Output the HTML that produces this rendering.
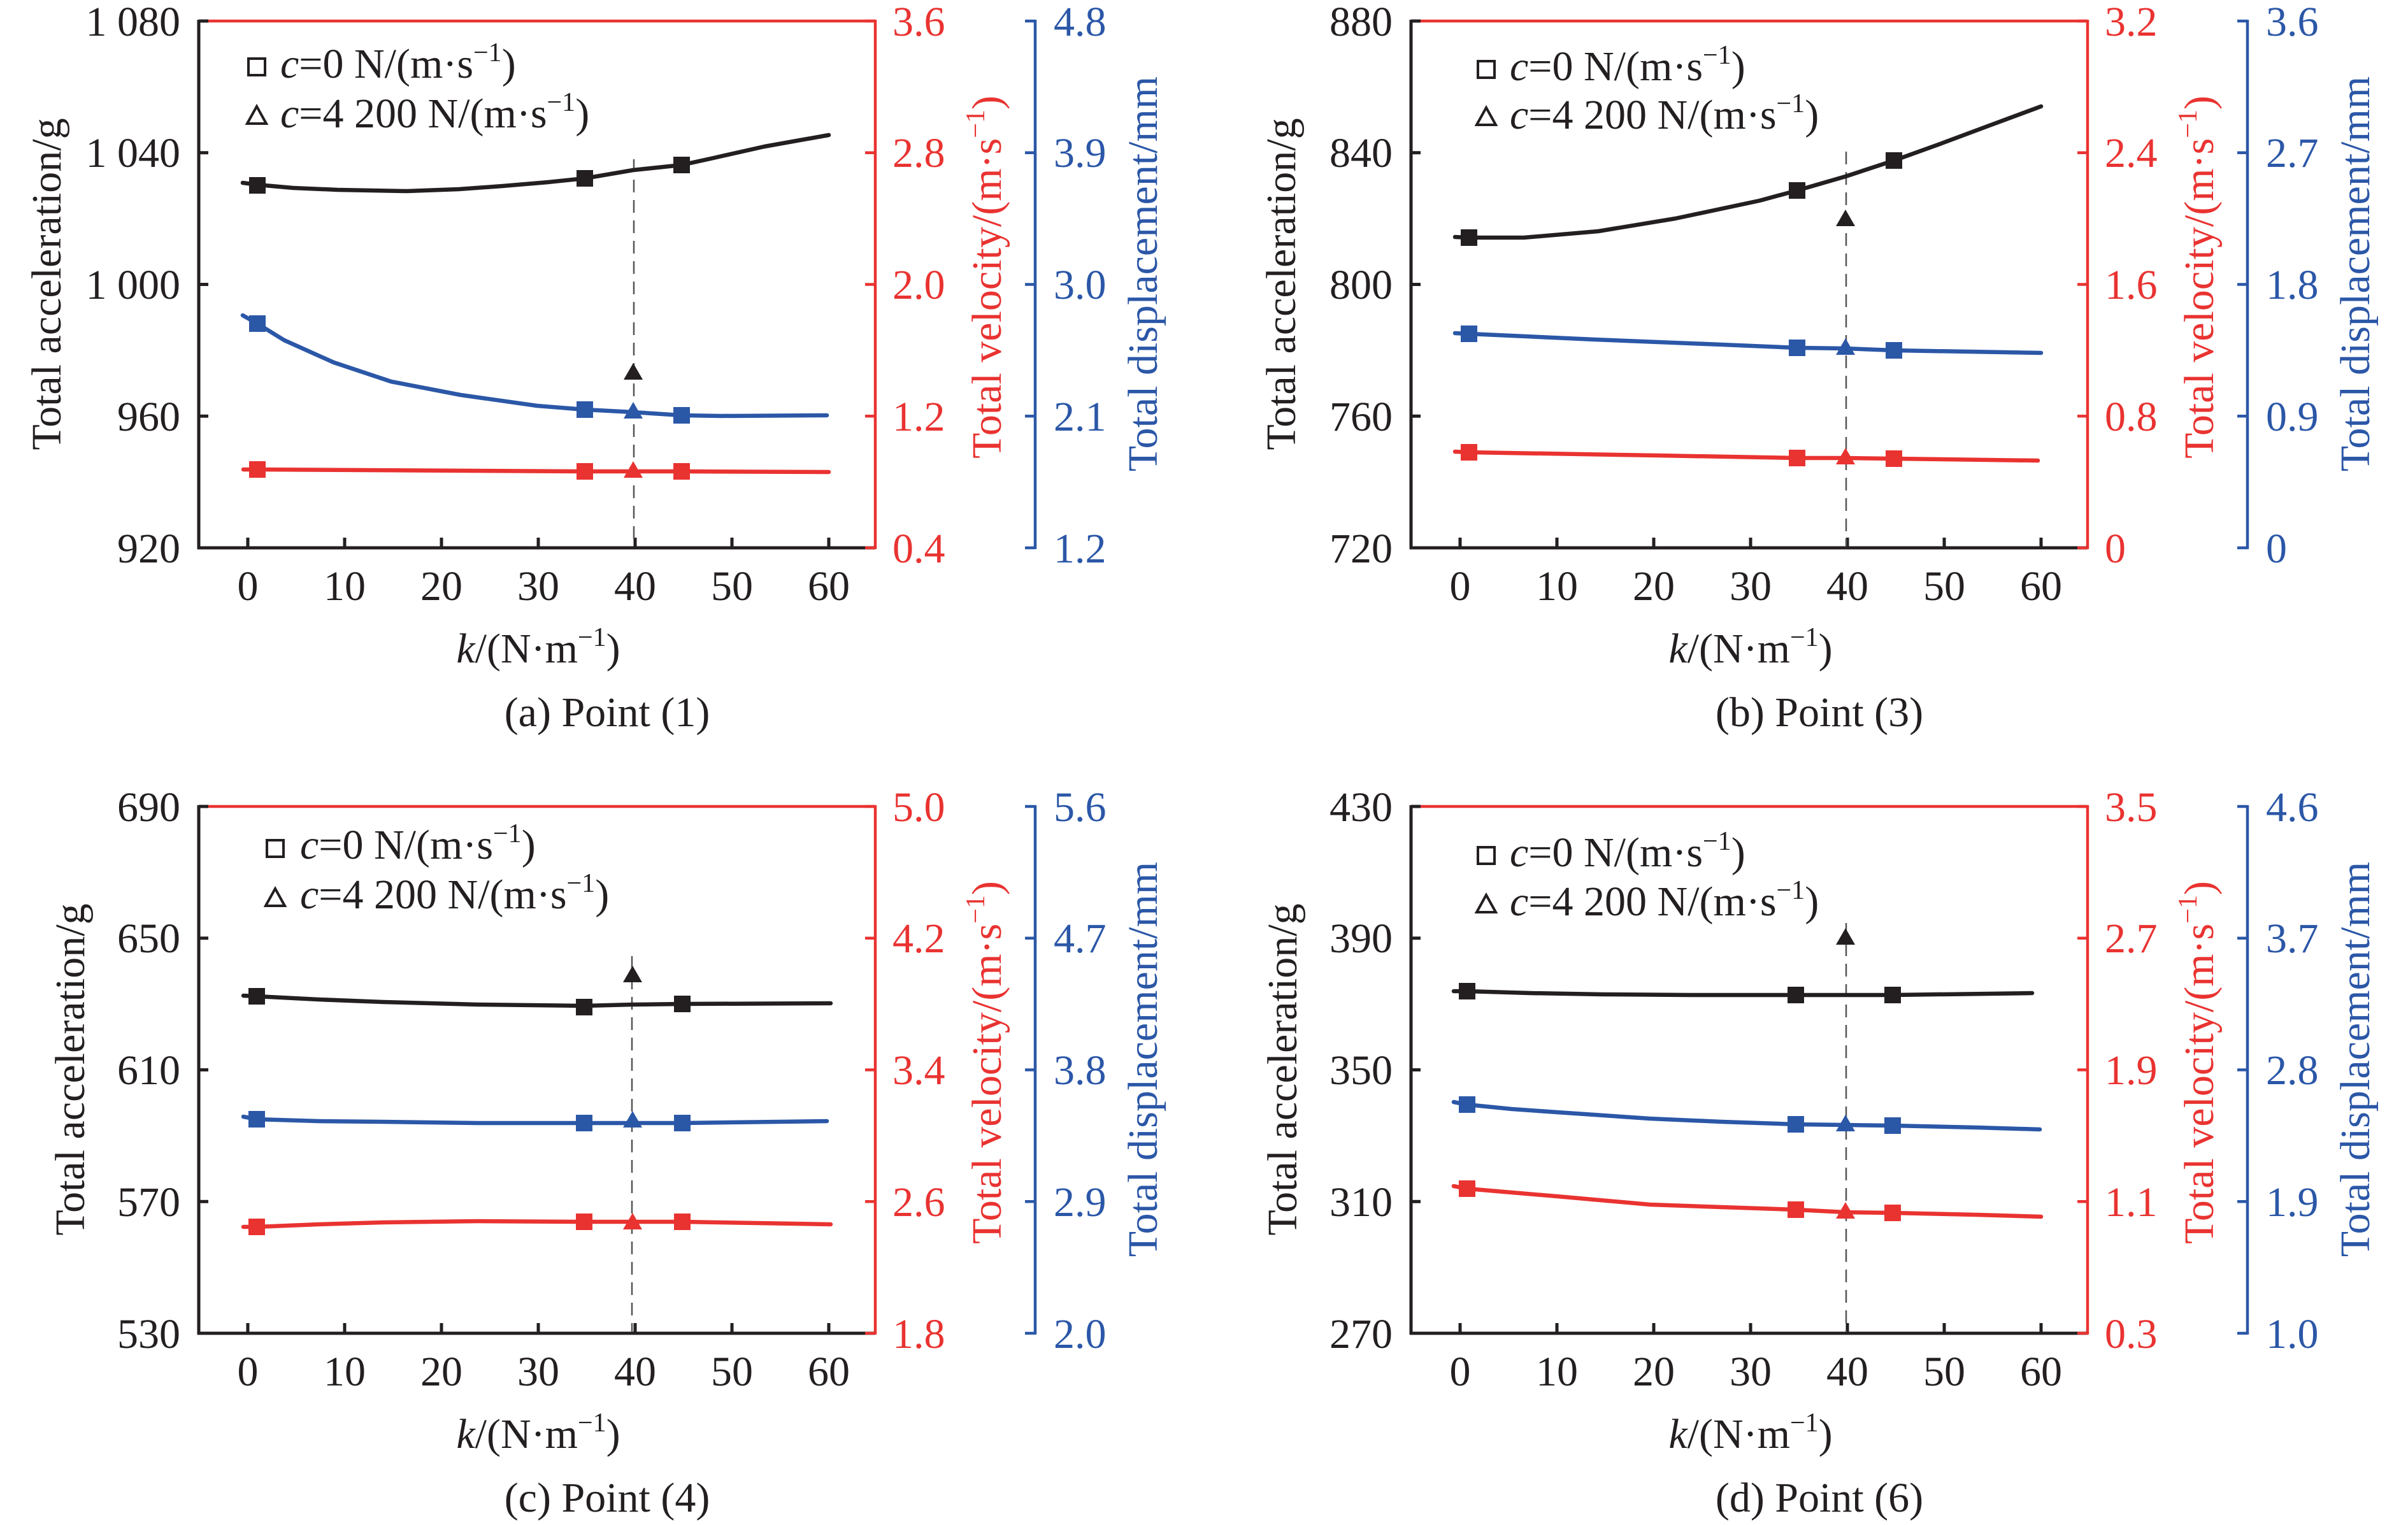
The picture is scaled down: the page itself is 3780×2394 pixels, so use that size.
<!DOCTYPE html>
<html>
<head>
<meta charset="utf-8">
<style>
  html,body{margin:0;padding:0;background:#fff;}
  svg{display:block;}
</style>
</head>
<body>
<svg xmlns="http://www.w3.org/2000/svg" width="3780" height="2394" viewBox="0 0 3780 2394">
<rect width="3780" height="2394" fill="#ffffff"/>
<g font-family="'Liberation Serif', 'Times New Roman', serif" font-size="66" fill="#231f20">

<!-- ================= PANEL (a) ================= -->
<g transform="translate(0,0)">
  <line x1="312" y1="33" x2="1374" y2="33" stroke="#e93331" stroke-width="4.5"/>
  <line x1="1374" y1="31" x2="1374" y2="862" stroke="#e93331" stroke-width="4.5"/>
  <line x1="310" y1="860" x2="1374" y2="860" stroke="#231f20" stroke-width="5"/>
  <line x1="312" y1="31" x2="312" y2="862" stroke="#231f20" stroke-width="5"/>
  <path d="M312,33h15M312,239.75h15M312,446.5h15M312,653.25h15M312,860h15" stroke="#231f20" stroke-width="5" fill="none"/>
  <path d="M1374,33h-16M1374,239.75h-16M1374,446.5h-16M1374,653.25h-16M1374,860h-16" stroke="#e93331" stroke-width="4.5" fill="none"/>
  <path d="M389,860v-16M541,860v-16M693,860v-16M845,860v-16M997,860v-16M1149,860v-16M1301,860v-16" stroke="#231f20" stroke-width="5" fill="none"/>
  <line x1="1625" y1="31" x2="1625" y2="862" stroke="#2b57a7" stroke-width="4.5"/>
  <path d="M1625,33h-16M1625,239.75h-16M1625,446.5h-16M1625,653.25h-16M1625,860h-16" stroke="#2b57a7" stroke-width="4.5" fill="none"/>
  <g text-anchor="end">
    <text x="283" y="56">1 080</text><text x="283" y="262">1 040</text><text x="283" y="469">1 000</text><text x="283" y="676">960</text><text x="283" y="883">920</text>
  </g>
  <g fill="#e93331">
    <text x="1401" y="56">3.6</text><text x="1401" y="262">2.8</text><text x="1401" y="469">2.0</text><text x="1401" y="676">1.2</text><text x="1401" y="883">0.4</text>
  </g>
  <g fill="#2b57a7">
    <text x="1654" y="56">4.8</text><text x="1654" y="262">3.9</text><text x="1654" y="469">3.0</text><text x="1654" y="676">2.1</text><text x="1654" y="883">1.2</text>
  </g>
  <g text-anchor="middle">
    <text x="389" y="942">0</text><text x="541" y="942">10</text><text x="693" y="942">20</text><text x="845" y="942">30</text><text x="997" y="942">40</text><text x="1149" y="942">50</text><text x="1301" y="942">60</text>
  </g>
  <text transform="translate(95,446) rotate(-90)" text-anchor="middle">Total acceleration/g</text>
  <text transform="translate(1571,435) rotate(-90)" text-anchor="middle" fill="#e93331">Total velocity/(m·s<tspan dy="-26" font-size="42">−1</tspan><tspan dy="26">)</tspan></text>
  <text transform="translate(1816,430) rotate(-90)" text-anchor="middle" fill="#2b57a7">Total displacement/mm</text>
  <text x="845" y="1040" text-anchor="middle"><tspan font-style="italic">k</tspan>/(N·m<tspan dy="-26" font-size="42">−1</tspan><tspan dy="26">)</tspan></text>
  <text x="953" y="1140" text-anchor="middle">(a) Point (1)</text>
  <rect x="390" y="92" width="26" height="26" fill="none" stroke="#231f20" stroke-width="4"/>
  <polygon points="388,194 418,194 403,167" fill="none" stroke="#231f20" stroke-width="4"/>
  <text x="440" y="122"><tspan font-style="italic">c</tspan>=0 N/(m·s<tspan dy="-26" font-size="42">−1</tspan><tspan dy="26">)</tspan></text>
  <text x="440" y="200"><tspan font-style="italic">c</tspan>=4 200 N/(m·s<tspan dy="-26" font-size="42">−1</tspan><tspan dy="26">)</tspan></text>
  <line x1="995" y1="250" x2="995" y2="858" stroke="#555" stroke-width="2.5" stroke-dasharray="20,12"/>
  <g fill="none" stroke-width="6.5" stroke-linejoin="round" stroke-linecap="round">
    <polyline stroke="#231f20" points="381,287 404,290 460,295 530,298 639,300 720,297 789,292 860,286 918,280 994,267 1070,259 1120,248 1200,230 1301,212"/>
    <polyline stroke="#2b57a7" points="381,495 404,508 446,534 524,569 614,599 723,620 843,637 918,643 994,647 1070,652 1133,653 1298,652"/>
    <polyline stroke="#e93331" points="382,737 404,737 918,740 994,740 1070,740 1301,741"/>
  </g>
  <g fill="#231f20"><rect x="391" y="278" width="26" height="26"/><rect x="905" y="267" width="26" height="26"/><rect x="1057" y="246" width="26" height="26"/><polygon points="979,596 1009,596 994,570"/></g>
  <g fill="#2b57a7"><rect x="391" y="495" width="26" height="26"/><rect x="905" y="630" width="26" height="26"/><rect x="1057" y="639" width="26" height="26"/><polygon points="979,657 1009,657 994,631"/></g>
  <g fill="#e93331"><rect x="391" y="724" width="26" height="26"/><rect x="905" y="727" width="26" height="26"/><rect x="1057" y="727" width="26" height="26"/><polygon points="979,750 1009,750 994,724"/></g>
</g>

<!-- ================= PANEL (b) ================= -->
<g transform="translate(1903,0)">
  <line x1="312" y1="33" x2="1374" y2="33" stroke="#e93331" stroke-width="4.5"/>
  <line x1="1374" y1="31" x2="1374" y2="862" stroke="#e93331" stroke-width="4.5"/>
  <line x1="310" y1="860" x2="1374" y2="860" stroke="#231f20" stroke-width="5"/>
  <line x1="312" y1="31" x2="312" y2="862" stroke="#231f20" stroke-width="5"/>
  <path d="M312,33h15M312,239.75h15M312,446.5h15M312,653.25h15M312,860h15" stroke="#231f20" stroke-width="5" fill="none"/>
  <path d="M1374,33h-16M1374,239.75h-16M1374,446.5h-16M1374,653.25h-16M1374,860h-16" stroke="#e93331" stroke-width="4.5" fill="none"/>
  <path d="M389,860v-16M541,860v-16M693,860v-16M845,860v-16M997,860v-16M1149,860v-16M1301,860v-16" stroke="#231f20" stroke-width="5" fill="none"/>
  <line x1="1625" y1="31" x2="1625" y2="862" stroke="#2b57a7" stroke-width="4.5"/>
  <path d="M1625,33h-16M1625,239.75h-16M1625,446.5h-16M1625,653.25h-16M1625,860h-16" stroke="#2b57a7" stroke-width="4.5" fill="none"/>
  <g text-anchor="end">
    <text x="283" y="56">880</text><text x="283" y="262">840</text><text x="283" y="469">800</text><text x="283" y="676">760</text><text x="283" y="883">720</text>
  </g>
  <g fill="#e93331">
    <text x="1401" y="56">3.2</text><text x="1401" y="262">2.4</text><text x="1401" y="469">1.6</text><text x="1401" y="676">0.8</text><text x="1401" y="883">0</text>
  </g>
  <g fill="#2b57a7">
    <text x="1654" y="56">3.6</text><text x="1654" y="262">2.7</text><text x="1654" y="469">1.8</text><text x="1654" y="676">0.9</text><text x="1654" y="883">0</text>
  </g>
  <g text-anchor="middle">
    <text x="389" y="942">0</text><text x="541" y="942">10</text><text x="693" y="942">20</text><text x="845" y="942">30</text><text x="997" y="942">40</text><text x="1149" y="942">50</text><text x="1301" y="942">60</text>
  </g>
  <text transform="translate(130,446) rotate(-90)" text-anchor="middle">Total acceleration/g</text>
  <text transform="translate(1571,435) rotate(-90)" text-anchor="middle" fill="#e93331">Total velocity/(m·s<tspan dy="-26" font-size="42">−1</tspan><tspan dy="26">)</tspan></text>
  <text transform="translate(1816,430) rotate(-90)" text-anchor="middle" fill="#2b57a7">Total displacement/mm</text>
  <text x="845" y="1040" text-anchor="middle"><tspan font-style="italic">k</tspan>/(N·m<tspan dy="-26" font-size="42">−1</tspan><tspan dy="26">)</tspan></text>
  <text x="953" y="1140" text-anchor="middle">(b) Point (3)</text>
  <rect x="417" y="96" width="26" height="26" fill="none" stroke="#231f20" stroke-width="4"/>
  <polygon points="415,196 445,196 430,169" fill="none" stroke="#231f20" stroke-width="4"/>
  <text x="467" y="126"><tspan font-style="italic">c</tspan>=0 N/(m·s<tspan dy="-26" font-size="42">−1</tspan><tspan dy="26">)</tspan></text>
  <text x="467" y="202"><tspan font-style="italic">c</tspan>=4 200 N/(m·s<tspan dy="-26" font-size="42">−1</tspan><tspan dy="26">)</tspan></text>
  <line x1="995" y1="238" x2="995" y2="858" stroke="#555" stroke-width="2.5" stroke-dasharray="20,12"/>
  <g fill="none" stroke-width="6.5" stroke-linejoin="round" stroke-linecap="round">
    <polyline stroke="#231f20" points="381,372 403,373 489,373 606,363 727,343 859,315 918,299 994,277 1070,252 1145,225 1220,197 1301,167"/>
    <polyline stroke="#2b57a7" points="381,523 403,524 600,533 800,541 918,546 994,547 1070,550 1301,554"/>
    <polyline stroke="#e93331" points="381,709 403,710 700,715 918,719 994,719 1070,720 1296,723"/>
  </g>
  <g fill="#231f20"><rect x="390" y="360" width="26" height="26"/><rect x="905" y="286" width="26" height="26"/><rect x="1057" y="239" width="26" height="26"/><polygon points="979,355 1009,355 994,329"/></g>
  <g fill="#2b57a7"><rect x="390" y="511" width="26" height="26"/><rect x="905" y="533" width="26" height="26"/><rect x="1057" y="537" width="26" height="26"/><polygon points="979,557 1009,557 994,531"/></g>
  <g fill="#e93331"><rect x="390" y="697" width="26" height="26"/><rect x="905" y="706" width="26" height="26"/><rect x="1057" y="707" width="26" height="26"/><polygon points="979,729 1009,729 994,703"/></g>
</g>

<!-- ================= PANEL (c) ================= -->
<g transform="translate(0,1233)">
  <line x1="312" y1="33" x2="1374" y2="33" stroke="#e93331" stroke-width="4.5"/>
  <line x1="1374" y1="31" x2="1374" y2="862" stroke="#e93331" stroke-width="4.5"/>
  <line x1="310" y1="860" x2="1374" y2="860" stroke="#231f20" stroke-width="5"/>
  <line x1="312" y1="31" x2="312" y2="862" stroke="#231f20" stroke-width="5"/>
  <path d="M312,33h15M312,239.75h15M312,446.5h15M312,653.25h15M312,860h15" stroke="#231f20" stroke-width="5" fill="none"/>
  <path d="M1374,33h-16M1374,239.75h-16M1374,446.5h-16M1374,653.25h-16M1374,860h-16" stroke="#e93331" stroke-width="4.5" fill="none"/>
  <path d="M389,860v-16M541,860v-16M693,860v-16M845,860v-16M997,860v-16M1149,860v-16M1301,860v-16" stroke="#231f20" stroke-width="5" fill="none"/>
  <line x1="1625" y1="31" x2="1625" y2="862" stroke="#2b57a7" stroke-width="4.5"/>
  <path d="M1625,33h-16M1625,239.75h-16M1625,446.5h-16M1625,653.25h-16M1625,860h-16" stroke="#2b57a7" stroke-width="4.5" fill="none"/>
  <g text-anchor="end">
    <text x="283" y="56">690</text><text x="283" y="262">650</text><text x="283" y="469">610</text><text x="283" y="676">570</text><text x="283" y="883">530</text>
  </g>
  <g fill="#e93331">
    <text x="1401" y="56">5.0</text><text x="1401" y="262">4.2</text><text x="1401" y="469">3.4</text><text x="1401" y="676">2.6</text><text x="1401" y="883">1.8</text>
  </g>
  <g fill="#2b57a7">
    <text x="1654" y="56">5.6</text><text x="1654" y="262">4.7</text><text x="1654" y="469">3.8</text><text x="1654" y="676">2.9</text><text x="1654" y="883">2.0</text>
  </g>
  <g text-anchor="middle">
    <text x="389" y="942">0</text><text x="541" y="942">10</text><text x="693" y="942">20</text><text x="845" y="942">30</text><text x="997" y="942">40</text><text x="1149" y="942">50</text><text x="1301" y="942">60</text>
  </g>
  <text transform="translate(132,446) rotate(-90)" text-anchor="middle">Total acceleration/g</text>
  <text transform="translate(1571,435) rotate(-90)" text-anchor="middle" fill="#e93331">Total velocity/(m·s<tspan dy="-26" font-size="42">−1</tspan><tspan dy="26">)</tspan></text>
  <text transform="translate(1816,430) rotate(-90)" text-anchor="middle" fill="#2b57a7">Total displacement/mm</text>
  <text x="845" y="1040" text-anchor="middle"><tspan font-style="italic">k</tspan>/(N·m<tspan dy="-26" font-size="42">−1</tspan><tspan dy="26">)</tspan></text>
  <text x="953" y="1140" text-anchor="middle">(c) Point (4)</text>
  <rect x="419" y="86" width="26" height="26" fill="none" stroke="#231f20" stroke-width="4"/>
  <polygon points="417,189 447,189 432,162" fill="none" stroke="#231f20" stroke-width="4"/>
  <text x="471" y="115"><tspan font-style="italic">c</tspan>=0 N/(m·s<tspan dy="-26" font-size="42">−1</tspan><tspan dy="26">)</tspan></text>
  <text x="471" y="193"><tspan font-style="italic">c</tspan>=4 200 N/(m·s<tspan dy="-26" font-size="42">−1</tspan><tspan dy="26">)</tspan></text>
  <line x1="992" y1="268" x2="992" y2="858" stroke="#555" stroke-width="2.5" stroke-dasharray="20,12"/>
  <g fill="none" stroke-width="6.5" stroke-linejoin="round" stroke-linecap="round">
    <polyline stroke="#231f20" points="382,330 403,331 500,336 602,340 750,344 917,346 993,344 1071,343 1304,342"/>
    <polyline stroke="#2b57a7" points="382,520 403,524 500,527 600,528 750,530 917,530 993,530 1071,530 1298,527"/>
    <polyline stroke="#e93331" points="382,693 403,693 500,689 600,686 750,684 917,685 993,685 1071,685 1304,689"/>
  </g>
  <g fill="#231f20"><rect x="390" y="318" width="26" height="26"/><rect x="904" y="335" width="26" height="26"/><rect x="1058" y="330" width="26" height="26"/><polygon points="978,309 1008,309 993,283"/></g>
  <g fill="#2b57a7"><rect x="390" y="511" width="26" height="26"/><rect x="904" y="517" width="26" height="26"/><rect x="1058" y="517" width="26" height="26"/><polygon points="978,537 1008,537 993,511"/></g>
  <g fill="#e93331"><rect x="390" y="680" width="26" height="26"/><rect x="904" y="672" width="26" height="26"/><rect x="1058" y="672" width="26" height="26"/><polygon points="978,697 1008,697 993,671"/></g>
</g>

<!-- ================= PANEL (d) ================= -->
<g transform="translate(1903,1233)">
  <line x1="312" y1="33" x2="1374" y2="33" stroke="#e93331" stroke-width="4.5"/>
  <line x1="1374" y1="31" x2="1374" y2="862" stroke="#e93331" stroke-width="4.5"/>
  <line x1="310" y1="860" x2="1374" y2="860" stroke="#231f20" stroke-width="5"/>
  <line x1="312" y1="31" x2="312" y2="862" stroke="#231f20" stroke-width="5"/>
  <path d="M312,33h15M312,239.75h15M312,446.5h15M312,653.25h15M312,860h15" stroke="#231f20" stroke-width="5" fill="none"/>
  <path d="M1374,33h-16M1374,239.75h-16M1374,446.5h-16M1374,653.25h-16M1374,860h-16" stroke="#e93331" stroke-width="4.5" fill="none"/>
  <path d="M389,860v-16M541,860v-16M693,860v-16M845,860v-16M997,860v-16M1149,860v-16M1301,860v-16" stroke="#231f20" stroke-width="5" fill="none"/>
  <line x1="1625" y1="31" x2="1625" y2="862" stroke="#2b57a7" stroke-width="4.5"/>
  <path d="M1625,33h-16M1625,239.75h-16M1625,446.5h-16M1625,653.25h-16M1625,860h-16" stroke="#2b57a7" stroke-width="4.5" fill="none"/>
  <g text-anchor="end">
    <text x="283" y="56">430</text><text x="283" y="262">390</text><text x="283" y="469">350</text><text x="283" y="676">310</text><text x="283" y="883">270</text>
  </g>
  <g fill="#e93331">
    <text x="1401" y="56">3.5</text><text x="1401" y="262">2.7</text><text x="1401" y="469">1.9</text><text x="1401" y="676">1.1</text><text x="1401" y="883">0.3</text>
  </g>
  <g fill="#2b57a7">
    <text x="1654" y="56">4.6</text><text x="1654" y="262">3.7</text><text x="1654" y="469">2.8</text><text x="1654" y="676">1.9</text><text x="1654" y="883">1.0</text>
  </g>
  <g text-anchor="middle">
    <text x="389" y="942">0</text><text x="541" y="942">10</text><text x="693" y="942">20</text><text x="845" y="942">30</text><text x="997" y="942">40</text><text x="1149" y="942">50</text><text x="1301" y="942">60</text>
  </g>
  <text transform="translate(132,446) rotate(-90)" text-anchor="middle">Total acceleration/g</text>
  <text transform="translate(1571,435) rotate(-90)" text-anchor="middle" fill="#e93331">Total velocity/(m·s<tspan dy="-26" font-size="42">−1</tspan><tspan dy="26">)</tspan></text>
  <text transform="translate(1816,430) rotate(-90)" text-anchor="middle" fill="#2b57a7">Total displacement/mm</text>
  <text x="845" y="1040" text-anchor="middle"><tspan font-style="italic">k</tspan>/(N·m<tspan dy="-26" font-size="42">−1</tspan><tspan dy="26">)</tspan></text>
  <text x="953" y="1140" text-anchor="middle">(d) Point (6)</text>
  <rect x="417" y="97" width="26" height="26" fill="none" stroke="#231f20" stroke-width="4"/>
  <polygon points="415,199 445,199 430,172" fill="none" stroke="#231f20" stroke-width="4"/>
  <text x="467" y="127"><tspan font-style="italic">c</tspan>=0 N/(m·s<tspan dy="-26" font-size="42">−1</tspan><tspan dy="26">)</tspan></text>
  <text x="467" y="204"><tspan font-style="italic">c</tspan>=4 200 N/(m·s<tspan dy="-26" font-size="42">−1</tspan><tspan dy="26">)</tspan></text>
  <line x1="995" y1="216" x2="995" y2="858" stroke="#555" stroke-width="2.5" stroke-dasharray="20,12"/>
  <g fill="none" stroke-width="6.5" stroke-linejoin="round" stroke-linecap="round">
    <polyline stroke="#231f20" points="379,323 400,323 500,326 614,328 750,329 916,329 994,329 1068,329 1287,326"/>
    <polyline stroke="#2b57a7" points="379,497 400,501 470,508 541,513 687,523 800,528 916,532 994,533 1068,534 1200,537 1299,540"/>
    <polyline stroke="#e93331" points="379,629 400,633 470,639 541,645 687,658 800,662 916,666 994,670 1068,671 1200,674 1301,677"/>
  </g>
  <g fill="#231f20"><rect x="387" y="310" width="26" height="26"/><rect x="903" y="316" width="26" height="26"/><rect x="1055" y="316" width="26" height="26"/><polygon points="979,250 1009,250 994,224"/></g>
  <g fill="#2b57a7"><rect x="387" y="488" width="26" height="26"/><rect x="903" y="519" width="26" height="26"/><rect x="1055" y="521" width="26" height="26"/><polygon points="979,543 1009,543 994,517"/></g>
  <g fill="#e93331"><rect x="387" y="620" width="26" height="26"/><rect x="903" y="653" width="26" height="26"/><rect x="1055" y="658" width="26" height="26"/><polygon points="979,680 1009,680 994,654"/></g>
</g>

</g>
</svg>
</body>
</html>
